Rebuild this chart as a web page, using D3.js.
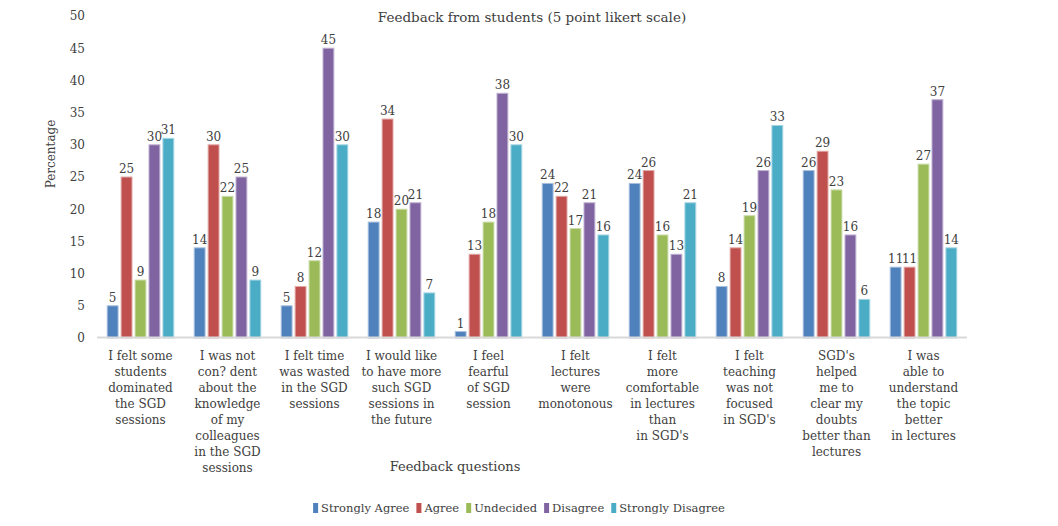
<!DOCTYPE html>
<html>
<head>
<meta charset="utf-8">
<script src="https://cdn.jsdelivr.net/npm/d3@7"></script>
<style>
  body { margin: 0; background: #fff; }
  text { font-family: "DejaVu Serif", "Liberation Serif", serif; fill: #404040; }
</style>
</head>
<body>
<script>
var width = 1058;
var height = 526;

// chart data
var questions = [
  ["I felt some", "students", "dominated", "the SGD", "sessions"],
  ["I was not", "con? dent", "about the", "knowledge", "of my", "colleagues", "in the SGD", "sessions"],
  ["I felt time", "was wasted", "in the SGD", "sessions"],
  ["I would like", "to have more", "such SGD", "sessions in", "the future"],
  ["I feel", "fearful", "of SGD", "session"],
  ["I felt", "lectures", "were", "monotonous"],
  ["I felt", "more", "comfortable", "in lectures", "than", "in SGD's"],
  ["I felt", "teaching", "was not", "focused", "in SGD's"],
  ["SGD's", "helped", "me to", "clear my", "doubts", "better than", "lectures"],
  ["I was", "able to", "understand", "the topic", "better", "in lectures"]
];
var seriesNames = ["Strongly Agree", "Agree", "Undecided", "Disagree", "Strongly Disagree"];
var stronglyAgree    = [5, 14, 5, 18, 1, 24, 24, 8, 26, 11];
var agree            = [25, 30, 8, 34, 13, 22, 26, 14, 29, 11];
var undecided        = [9, 22, 12, 20, 18, 17, 16, 19, 23, 27];
var disagree         = [30, 25, 45, 21, 38, 21, 13, 26, 16, 37];
var stronglyDisagree = [31, 9, 30, 7, 30, 16, 21, 33, 6, 14];
var yTicks = [0, 5, 10, 15, 20, 25, 30, 35, 40, 45, 50];

var colors = ["#4f81bd", "#c0504d", "#9bbb59", "#8064a2", "#4bacc6"];
var strokes = ["#a7c0de", "#e0a8a6", "#cddcac", "#bfb1d0", "#a5d5e2"];

var seriesValues = [stronglyAgree, agree, undecided, disagree, stronglyDisagree];

var svg = d3.select("body").append("svg")
  .attr("width", width)
  .attr("height", height);

var idx = d3.range(questions.length);

var x0 = d3.scaleBand()
  .domain(idx)
  .range([97, 967])
  .paddingInner(0.235)
  .paddingOuter(0.1175);

var x1 = d3.scaleBand()
  .domain(d3.range(seriesNames.length))
  .range([0, x0.bandwidth()])
  .paddingInner(0.22);

var y = d3.scaleLinear()
  .domain([0, 50])
  .range([338, 16]);

// y tick labels (no axis line)
var yAxis = d3.axisLeft(y).tickValues(yTicks).tickSize(0).tickPadding(0);
var gy = svg.append("g")
  .attr("transform", "translate(85,0)")
  .call(yAxis);
gy.select(".domain").remove();
gy.selectAll("text")
  .style("font-family", "DejaVu Serif, serif")
  .style("font-size", "12px")
  .attr("fill", "#404040");

// bars
var groups = svg.selectAll("g.cat")
  .data(idx)
  .enter()
  .append("g")
  .attr("class", "cat")
  .attr("transform", function(i) { return "translate(" + x0(i) + ",0)"; });

groups.selectAll("rect")
  .data(function(i) { return seriesValues.map(function(s, k) { return { k: k, v: s[i] }; }); })
  .enter()
  .append("rect")
  .attr("x", function(d) { return x1(d.k); })
  .attr("y", function(d) { return y(d.v); })
  .attr("width", x1.bandwidth())
  .attr("height", function(d) { return y(0) - y(d.v); })
  .attr("fill", function(d) { return colors[d.k]; })
  .attr("stroke", function(d) { return strokes[d.k]; })
  .attr("stroke-width", 1);

groups.selectAll("text.val")
  .data(function(i) { return seriesValues.map(function(s, k) { return { k: k, v: s[i] }; }); })
  .enter()
  .append("text")
  .attr("class", "val")
  .attr("x", function(d) { return x1(d.k) + x1.bandwidth() / 2; })
  .attr("y", function(d) { return y(d.v) - 4; })
  .attr("text-anchor", "middle")
  .style("font-size", "12px")
  .text(function(d) { return d.v; });

// baseline
svg.append("line")
  .attr("x1", 97).attr("x2", 967)
  .attr("y1", y(0) - 0.5).attr("y2", y(0) - 0.5)
  .attr("stroke", "#d9d9d9")
  .attr("stroke-width", 2);

// category labels
var labels = svg.selectAll("text.cat")
  .data(idx)
  .enter()
  .append("text")
  .attr("class", "cat")
  .attr("text-anchor", "middle")
  .style("font-size", "12px");

labels.selectAll("tspan")
  .data(function(i) { return questions[i].map(function(l) { return { i: i, l: l }; }); })
  .enter()
  .append("tspan")
  .attr("x", function(d) { return x0(d.i) + x0.bandwidth() / 2; })
  .attr("y", function(d, j) { return 360 + j * 16; })
  .text(function(d) { return d.l; });

// titles
svg.append("text")
  .attr("x", 532).attr("y", 22)
  .attr("text-anchor", "middle")
  .style("font-size", "13.5px")
  .attr("fill", "#262626")
  .text("Feedback from students (5 point likert scale)");

svg.append("text")
  .attr("x", 455).attr("y", 471)
  .attr("text-anchor", "middle")
  .style("font-size", "13px")
  .text("Feedback questions");

svg.append("text")
  .attr("transform", "translate(55,154) rotate(-90)")
  .attr("text-anchor", "middle")
  .style("font-size", "12px")
  .text("Percentage");

// legend, laid out one after the other and centred
var legend = svg.append("g").attr("class", "legend");
var items = legend.selectAll("g")
  .data(seriesNames)
  .enter()
  .append("g");

items.append("rect")
  .attr("width", 5).attr("height", 10)
  .attr("fill", function(d, k) { return colors[k]; });

items.append("text")
  .attr("x", 8).attr("y", 9)
  .style("font-size", "11.5px")
  .text(function(d) { return d; });

var pos = 0;
items.each(function() {
  var w = 8 + d3.select(this).select("text").node().getComputedTextLength();
  d3.select(this).attr("transform", "translate(" + pos + ",0)");
  pos += w + 7;
});
legend.attr("transform", "translate(" + (519 - (pos - 7) / 2) + ",503)");
</script>
</body>
</html>
